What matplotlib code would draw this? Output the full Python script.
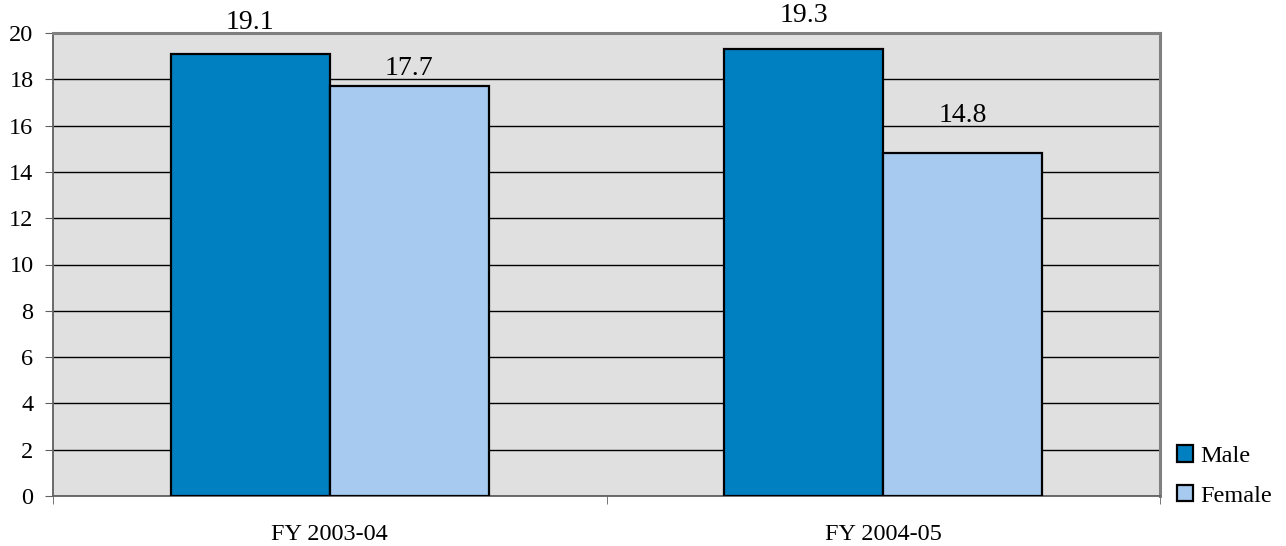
import matplotlib

matplotlib.use("Agg")
import matplotlib.pyplot as plt
import numpy as np

categories = ["FY 2003-04", "FY 2004-05"]
male = [19.1, 19.3]
female = [17.7, 14.8]

plt.rcParams["font.family"] = ["Liberation Serif", "DejaVu Serif"]

W, H = 1286, 546
fig = plt.figure(figsize=(W / 100, H / 100), dpi=100)
ax = fig.add_axes([53 / W, 1 - 496 / H, 1107 / W, 463 / H])
ax.set_facecolor("#E0E0E0")

x = np.arange(len(categories))
w = 0.287
bm = ax.bar(x - w / 2, male, w, color="#0080C0", edgecolor="black", lw=1.6,
            label="Male", zorder=3)
bf = ax.bar(x + w / 2, female, w, color="#A6CAF0", edgecolor="black", lw=1.6,
            label="Female", zorder=3)

# label offsets (pixels above bar top) as placed in the original
offs_m = [31, 34]
offs_f = [18, 38]
for bars, vals, offs in [(bm, male, offs_m), (bf, female, offs_f)]:
    for b, v, o in zip(bars, vals, offs):
        ax.annotate(f"{v:.1f}", (b.get_x() + b.get_width() / 2, v),
                    xytext=(0, o * 0.72), textcoords="offset points",
                    ha="center", va="center", fontsize=20,
                    annotation_clip=False, zorder=5)

ax.set_xlim(-0.5, len(categories) - 0.5)
ax.set_ylim(0, 20)
ax.set_yticks(np.arange(0, 21, 2))
ax.yaxis.grid(True, color="black", lw=1, zorder=1)
ax.set_xticks(x)
ax.set_xticklabels(categories, fontsize=17.5)
ax.set_xticks(np.arange(-0.5, len(categories)), minor=True)
ax.tick_params(axis="x", which="major", length=0, pad=20)
ax.tick_params(axis="x", which="minor", length=6, direction="out", color="#606060")
ax.tick_params(axis="y", length=6, direction="out", labelsize=17.5, pad=8,
               color="#606060")

for s in ["top", "right"]:
    ax.spines[s].set_color("#808080")
    ax.spines[s].set_linewidth(2.2)
for s in ["left", "bottom"]:
    ax.spines[s].set_color("#606060")
    ax.spines[s].set_linewidth(1.3)

fig.legend(handles=[bm, bf], loc="center left",
           bbox_to_anchor=(1177 / W, 1 - 476 / H), frameon=False,
           fontsize=17.5, handlelength=0.66, handleheight=0.66, handletextpad=0.3,
           borderpad=0, borderaxespad=0, labelspacing=0.75)

fig.savefig("out.png", dpi=100)
